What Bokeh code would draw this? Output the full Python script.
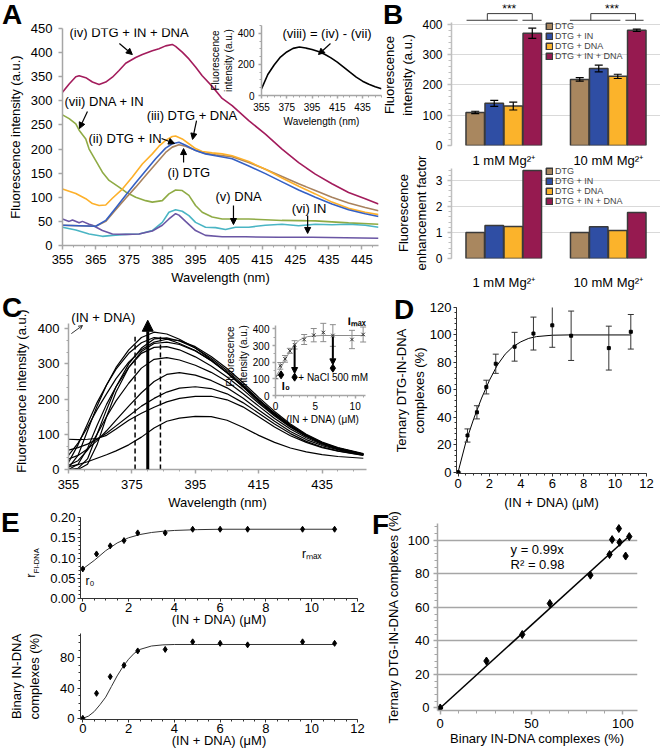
import numpy as np
from bokeh.plotting import figure
from bokeh.models import (ColumnDataSource, Range1d, FactorRange, FixedTicker, Label, Arrow,
                          NormalHead, OpenHead, Legend, LegendItem, NumeralTickFormatter, Div)
from bokeh.transform import dodge
from bokeh.layouts import column
from bokeh.embed import file_html
from bokeh.resources import INLINE

FONT = "Liberation Sans"

# ---------------- Panel A data (wavelength nm, fluorescence a.u.) ----------------
iv_x = [355, 357, 359, 360, 362, 364, 366, 368, 370, 372, 374, 377, 379, 382, 384, 386, 388, 389, 391, 393, 395, 397, 400, 403, 406, 411, 416, 421, 426, 431, 436, 441, 446, 450]
iv_y = [318, 335, 350, 352, 348, 339, 334, 339, 349, 363, 378, 390, 396, 404, 408, 414, 417, 413, 401, 387, 370, 352, 330, 305, 290, 259, 231, 200, 172, 148, 128, 110, 97, 86]
iii_x = [355, 359, 362, 364, 366, 368, 370, 373, 376, 379, 382, 384, 386, 388, 389, 391, 393, 395, 397, 400, 403, 406, 411, 416, 421, 426, 431, 436, 441, 446, 450]
iii_y = [117, 108, 97, 87, 83, 84, 98, 117, 142, 169, 190, 206, 218, 226, 227, 221, 211, 201, 195, 192, 190, 186, 174, 158, 140, 123, 107, 90, 77, 69, 64]
ii_x = [355, 360, 365, 368, 371, 374, 377, 380, 383, 386, 388, 390, 392, 395, 398, 401, 406, 411, 416, 421, 426, 431, 436, 441, 446, 450]
ii_y = [42, 41, 40, 52, 78, 104, 130, 155, 180, 202, 211, 214, 208, 197, 190, 186, 180, 165, 149, 132, 115, 100, 86, 74, 66, 60]
i_x = [355, 360, 365, 368, 371, 374, 377, 380, 383, 386, 388, 390, 392, 394, 396, 398, 401, 406, 411, 416, 421, 426, 431, 436, 441, 446, 450]
i_y = [42, 41, 40, 50, 74, 98, 121, 145, 169, 193, 204, 209, 206, 200, 195, 191, 188, 184, 172, 158, 143, 128, 114, 100, 88, 79, 72]
vii_x = [355, 357, 359, 360, 362, 363, 365, 367, 369, 372, 374, 377, 380, 382, 385, 387, 389, 391, 393, 395, 397, 400, 403, 411, 421, 431, 441, 450]
vii_y = [271, 263, 252, 239, 221, 200, 176, 152, 135, 121, 111, 100, 93, 90, 93, 107, 115, 114, 104, 83, 69, 59, 55, 55, 52, 51, 47, 44]
v_x = [355, 359, 363, 367, 370, 374, 378, 382, 385, 387, 389, 391, 393, 395, 398, 401, 404, 407, 411, 416, 421, 426, 431, 436, 441, 446, 450]
v_y = [38, 32, 24, 19, 21, 23, 24, 31, 48, 69, 74, 71, 62, 48, 38, 37, 33, 38, 38, 42, 44, 41, 44, 43, 44, 42, 38]
vi_x = [355, 357, 358, 360, 361, 363, 364, 367, 370, 374, 378, 382, 385, 387, 389, 390, 392, 395, 398, 403, 410, 420, 430, 440, 450]
vi_y = [55, 50, 53, 47, 50, 44, 42, 31, 24, 23, 24, 30, 42, 55, 66, 63, 50, 31, 21, 18, 18, 17, 17, 16, 15]
viii_x = [355, 360, 365, 370, 375, 380, 385, 390, 395, 400, 405, 410, 415, 420, 425, 430, 435, 440, 445, 450]
viii_y = [43, 135, 196, 247, 280, 303, 312, 305, 296, 283, 265, 242, 215, 183, 150, 118, 92, 72, 56, 43]

# ---------------- Panel B data ----------------
groups = ["1 mM Mg²⁺", "10 mM Mg²⁺"]
conditions = ["DTG", "DTG + IN", "DTG + DNA", "DTG + IN + DNA"]
cond_keys = ["dtg", "dtg_in", "dtg_dna", "dtg_in_dna"]
cond_colors = ["#a9875f", "#2f4ea4", "#fbb32b", "#961a50"]
intensity_dtg = [109, 218]
intensity_dtg_in = [139, 254]
intensity_dtg_dna = [130, 228]
intensity_dtg_in_dna = [370, 380]
err_dtg = [4, 6]
err_dtg_in = [10, 11]
err_dtg_dna = [13, 7]
err_dtg_in_dna = [17, 4]
enh_dtg = [1.0, 1.0]
enh_dtg_in = [1.27, 1.22]
enh_dtg_dna = [1.23, 1.08]
enh_dtg_in_dna = [3.38, 1.77]

# ---------------- Panel C data ----------------
wl_C = [355, 358, 361, 364, 367, 370, 374, 378, 382, 386, 390, 395, 400, 405, 410, 415, 420, 425, 430, 435, 440, 448]
spectra_C = [
    [8, 14, 22, 32, 42, 53, 70, 92, 118, 137, 146, 151, 150, 140, 120, 97, 77, 61, 50, 42, 37, 32],
    [86, 85, 86, 88, 97, 115, 140, 160, 177, 192, 202, 208, 208, 198, 178, 150, 121, 96, 77, 62, 52, 40],
    [55, 62, 72, 86, 103, 124, 152, 180, 202, 220, 231, 235, 230, 215, 190, 160, 129, 102, 80, 64, 53, 41],
    [30, 40, 58, 82, 110, 140, 180, 218, 250, 270, 275, 268, 253, 232, 203, 169, 137, 108, 85, 68, 56, 42],
    [12, 25, 55, 100, 150, 195, 245, 288, 313, 318, 311, 296, 276, 250, 216, 180, 145, 115, 90, 71, 58, 43],
    [0, 15, 60, 125, 185, 235, 290, 330, 347, 349, 340, 320, 294, 263, 227, 188, 152, 120, 94, 74, 60, 43],
    [0, 3, 30, 100, 170, 235, 300, 345, 371, 374, 365, 345, 316, 281, 241, 199, 160, 126, 98, 76, 61, 44],
    [20, 70, 130, 190, 240, 285, 330, 360, 375, 371, 358, 338, 309, 275, 236, 196, 157, 123, 96, 75, 60, 43],
    [5, 40, 110, 180, 240, 290, 340, 375, 390, 385, 370, 345, 312, 275, 235, 192, 155, 122, 95, 73, 58, 42],
    [0, 0, 15, 70, 150, 220, 290, 335, 358, 362, 355, 337, 310, 276, 238, 198, 160, 126, 98, 76, 61, 44],
    [40, 75, 120, 170, 215, 258, 305, 340, 362, 370, 366, 349, 321, 287, 247, 205, 165, 129, 100, 78, 62, 45],
]
window_nm = [376, 384]
peak_nm = 380
conc = [0, 0.6, 1.2, 1.8, 2.4, 3.6, 4.8, 6.0, 7.2, 9.6, 11.0]
I_obs = [110, 178, 220, 268, 304, 336, 362, 378, 360, 336, 366]
I_err = [10, 20, 20, 15, 25, 30, 40, 55, 65, 55, 45]
fitI_x = [0, 0.5, 1, 1.5, 2, 2.5, 3, 3.5, 4, 5, 6, 11.2]
fitI_y = [110, 150, 195, 240, 278, 310, 332, 345, 353, 358, 360, 360]
nacl_x = [0.7, 2.4, 7.2]
nacl_y = [124, 110, 164]

# ---------------- Panel D data ----------------
ternary = [0, 26.7, 43.6, 62, 79, 91.4, 101, 107, 99.4, 90.4, 102.3]
ternary_err = [0, 4.8, 4.8, 5, 7, 10.5, 12, 16, 18, 16, 12.6]
fitD_x = [0, 0.5, 1.0, 1.5, 2.0, 2.5, 3.0, 3.5, 4.0, 4.5, 5.0, 6.0, 7.0, 11.0]
fitD_y = [0, 22, 39, 54, 67, 78, 86, 91.5, 95, 97.5, 98.8, 99.8, 100, 100]

# ---------------- Panel E data ----------------
r_fi = [0.073, 0.11, 0.13, 0.143, 0.162, 0.162, 0.171, 0.171, 0.171, 0.171, 0.171]
fitR_x = [0, 0.5, 1, 1.5, 2, 2.5, 3, 3.5, 4, 5, 6, 11]
fitR_y = [0.073, 0.094, 0.118, 0.137, 0.150, 0.158, 0.163, 0.166, 0.168, 0.170, 0.171, 0.171]
binary = [0, 33, 55, 70, 89, 91, 101, 99, 97, 101, 99]
fitB_x = [0, 0.25, 0.5, 0.75, 1, 1.25, 1.5, 1.75, 2, 2.25, 2.5, 3, 3.5, 4, 5, 11]
fitB_y = [0, 3, 9, 18, 28, 42, 56, 68, 78, 86, 91, 95.5, 97, 97.5, 97.5, 97.5]

# ---------------- Panel F data ----------------
binary_F = [0, 25.3, 44.9, 60, 82.2, 92.7, 94.1, 97.8, 98.2, 101.5, 103.5]
ternary_F = [0, 28, 43.8, 62.3, 79.2, 91.5, 100.4, 107, 98.8, 90.6, 102.2]
reg_x = [0, 104]
reg_y = [0, 103]

GRAY = "#a6a6a6"
DARK = "#3a3a3a"


def make_fig(frame, xr, yr, bl=110, br=30, bt=40, bb=60):
    fl, ft, fr, fb = frame
    p = figure(frame_width=fr - fl, frame_height=fb - ft, x_range=xr, y_range=yr,
               output_backend="svg", toolbar_location=None,
               min_border_left=bl, min_border_right=br, min_border_top=bt, min_border_bottom=bb)
    p.styles = {"position": "absolute", "left": f"{fl - bl}px", "top": f"{ft - bt}px"}
    p.outline_line_color = None
    p.background_fill_color = None
    p.border_fill_color = None
    p.xgrid.visible = False
    p.ygrid.visible = False
    return p


def style_axes(p, color=GRAY, lw=1.5, fs="13px", tick_out=4, minor_out=2):
    for ax in p.axis:
        ax.axis_line_color = color
        ax.axis_line_width = lw
        ax.major_tick_line_color = color
        ax.major_tick_line_width = lw
        ax.minor_tick_line_color = color
        ax.minor_tick_line_width = 1
        ax.major_tick_in = 0
        ax.major_tick_out = tick_out
        ax.minor_tick_in = 0
        ax.minor_tick_out = minor_out
        ax.major_label_text_font = FONT
        ax.major_label_text_font_size = fs
        ax.major_label_text_color = "black"
        ax.axis_label_text_font = FONT
        ax.axis_label_text_font_size = fs
        ax.axis_label_text_font_style = "normal"
        ax.axis_label_text_color = "black"


def text(p, x, y, s, size="13px", align="left", baseline="middle", angle=0.0, style="normal"):
    p.add_layout(Label(x=x, y=y, text=s, text_font=FONT, text_font_size=size,
                       text_align=align, text_baseline=baseline, angle=angle,
                       text_font_style=style, text_color="black"))


def arrow(p, x0, y0, x1, y1, lw=1.2, size=6):
    p.add_layout(Arrow(end=NormalHead(size=size, fill_color="black", line_color="black", line_width=1),
                       x_start=x0, y_start=y0, x_end=x1, y_end=y1,
                       line_width=lw, line_color="black"))


def fixed(major, minor=None):
    return FixedTicker(ticks=list(major), minor_ticks=[] if minor is None else list(minor))


# ======================= Panel A =======================
pA = make_fig((62, 28, 378, 245), Range1d(355, 450), Range1d(0, 450))
style_axes(pA)
pA.xaxis.ticker = fixed(range(355, 450, 10), np.arange(355, 450.1, 10 / 3))
pA.yaxis.ticker = fixed(range(0, 451, 50))
pA.xaxis.axis_label = "Wavelength (nm)"
pA.yaxis.axis_label = "Fluorescence intensity (a.u.)"
pA.xaxis.major_label_standoff = 5
pA.xaxis.axis_label_standoff = 3
pA.yaxis.major_label_standoff = 6
pA.yaxis.axis_label_standoff = 5
for xs, ys, c in [(vii_x, vii_y, "#8fab45"), (v_x, v_y, "#4ab5c4"), (vi_x, vi_y, "#6a56a4"),
                  (i_x, i_y, "#a8825e"), (iii_x, iii_y, "#fdb02a"), (ii_x, ii_y, "#3560c4"),
                  (iv_x, iv_y, "#a31c5c")]:
    pA.line(xs, ys, line_color=c, line_width=1.6)
text(pA, 357.1, 442, "(iv) DTG + IN + DNA")
arrow(pA, 372.1, 419, 376.0, 396)
text(pA, 355.6, 298.6, "(vii) DNA + IN")
arrow(pA, 362.5, 278, 360.1, 242.6)
text(pA, 380.3, 269.6, "(iii) DTG + DNA")
arrow(pA, 395.3, 259, 394.1, 220)
text(pA, 362.8, 222, "(ii) DTG + IN")
arrow(pA, 384.8, 222, 388.7, 211.5)
text(pA, 386.6, 151.4, "(i) DTG")
arrow(pA, 391.4, 172, 391.4, 201)
text(pA, 401, 101.6, "(v) DNA")
arrow(pA, 406.4, 83, 406.4, 43.5)
text(pA, 423.9, 76.7, "(vi) IN")
arrow(pA, 428.7, 62, 428.7, 25)

# ---- inset of A ----
pAi = make_fig((261, 25, 381, 95), Range1d(355, 450), Range1d(0, 450), br=4)
style_axes(pAi, fs="10px", tick_out=3, minor_out=2)
pAi.xaxis.ticker = fixed(range(355, 450, 20), np.arange(355, 450.1, 5))
pAi.yaxis.ticker = fixed([0, 200, 400], np.arange(0, 450.1, 50))
pAi.xaxis.axis_label = "Wavelength (nm)"
pAi.yaxis.axis_label = "Fluorescence\nintensity (a.u.)"
pAi.xaxis.major_label_standoff = 4
pAi.xaxis.axis_label_standoff = 2
pAi.yaxis.major_label_standoff = 4
pAi.yaxis.axis_label_standoff = 1
pAi.line(viii_x, viii_y, line_color="black", line_width=1.6)
text(pAi, 371.6, 396, "(viii) = (iv) - (vii)")
arrow(pAi, 409.6, 334, 400.1, 263.5)

# ======================= Panel B =======================
srcB = ColumnDataSource(dict(
    group=groups,
    dtg=intensity_dtg, dtg_in=intensity_dtg_in, dtg_dna=intensity_dtg_dna, dtg_in_dna=intensity_dtg_in_dna,
    dtg_err=err_dtg, dtg_in_err=err_dtg_in, dtg_dna_err=err_dtg_dna, dtg_in_dna_err=err_dtg_in_dna,
    dtg_e=enh_dtg, dtg_in_e=enh_dtg_in, dtg_dna_e=enh_dtg_dna, dtg_in_dna_e=enh_dtg_in_dna,
))
for k in cond_keys:
    srcB.data[k + "_hi"] = [v + e for v, e in zip(srcB.data[k], srcB.data[k + "_err"])]
    srcB.data[k + "_lo"] = [v - e for v, e in zip(srcB.data[k], srcB.data[k + "_err"])]
offsets = [-0.273, -0.091, 0.091, 0.273]
BAR_W = 0.177


def bar_panel(frame, yr, suffix, ticks, minors, bounds, ylabel, legend_loc, x_standoff, bt):
    p = make_fig(frame, FactorRange(factors=groups), yr, br=0, bt=bt, bb=30)
    style_axes(p, color="#bfbfbf", lw=1.5, tick_out=4, minor_out=3)
    p.yaxis.ticker = fixed(ticks, minors)
    p.yaxis.bounds = bounds
    p.yaxis.axis_label = ylabel
    p.yaxis.major_label_standoff = 5
    p.yaxis.axis_label_standoff = 4
    p.yaxis.major_label_text_font_size = "12px"
    p.ygrid.visible = True
    p.ygrid.grid_line_color = "#d9d9d9"
    p.ygrid.grid_line_width = 1
    p.xaxis.axis_line_color = None
    p.xaxis.major_tick_line_color = None
    p.xaxis.major_label_standoff = x_standoff
    items = []
    for k, name, c, off in zip(cond_keys, conditions, cond_colors, offsets):
        r = p.vbar(x=dodge("group", off, range=p.x_range), top=k + suffix, width=BAR_W, source=srcB,
                   fill_color=c, line_color=DARK, line_width=1.5)
        items.append(LegendItem(label=name, renderers=[r]))
    leg = Legend(items=items, location=legend_loc, orientation="vertical", padding=0, margin=0,
                 spacing=-2, glyph_width=8, glyph_height=8, label_standoff=2, label_height=8,
                 label_text_font=FONT, label_text_font_size="9px", border_line_color=None,
                 background_fill_alpha=0)
    p.add_layout(leg)
    return p


pB1 = bar_panel((451, 4, 660, 145), Range1d(0, 465), "",
                [0, 100, 200, 300, 400], np.arange(0, 401, 20), (0, 407),
                "Fluorescence\nintensity (a.u.)", (94, 84), 3, 4)
for k, off in zip(cond_keys, offsets):
    xd = dodge("group", off, range=pB1.x_range)
    pB1.segment(x0=xd, x1=xd, y0=k + "_lo", y1=k + "_hi", source=srcB, line_color="black", line_width=1.2)
    pB1.scatter(x=xd, y=k + "_hi", source=srcB, marker="dash", size=8, line_color="black", line_width=1.2)
    pB1.scatter(x=xd, y=k + "_lo", source=srcB, marker="dash", size=8, line_color="black", line_width=1.2)
pB1.multi_line(xs=[[0.144, 0.633], [0.679, 0.862], [0.343, 0.343, 0.773, 0.773],
                   [1.133, 1.616], [1.664, 1.838], [1.333, 1.333, 1.761, 1.761]],
               ys=[[413, 413], [413, 413], [413, 435, 435, 413],
                   [413, 413], [413, 413], [413, 435, 435, 413]],
               line_color=DARK, line_width=1)
text(pB1, 0.553, 451, "***", size="12px", align="center")
text(pB1, 1.536, 451, "***", size="12px", align="center")

pB2 = bar_panel((451, 167, 660, 258), Range1d(0, 3.5), "_e",
                [0, 1, 2, 3], np.arange(0, 3.41, 0.2), (0, 3.45),
                "Fluorescence\nenhancement factor", (94, 52), 12, 24)

# ======================= Panel C =======================
pC = make_fig((68, 312, 366, 469), Range1d(355, 449), Range1d(0, 446))
style_axes(pC)
pC.xaxis.ticker = fixed(range(355, 449, 20), np.arange(355, 449, 5))
pC.yaxis.ticker = fixed(range(0, 401, 100), np.arange(0, 415, 100 / 3))
pC.yaxis.bounds = (0, 415)
pC.xaxis.axis_label = "Wavelength (nm)"
pC.yaxis.axis_label = "Fluorescence intensity (a.u.)"
pC.xaxis.major_label_standoff = 6
pC.xaxis.axis_label_standoff = 3
pC.yaxis.major_label_standoff = 5
pC.yaxis.axis_label_standoff = 6
pC.multi_line(xs=[wl_C] * len(spectra_C), ys=spectra_C, line_color="black", line_width=1.2)
pC.segment(x0=window_nm, x1=window_nm, y0=[0, 0], y1=[377, 377], line_color="black",
           line_width=1.5, line_dash="5 3")
pC.add_layout(Arrow(end=NormalHead(size=11, fill_color="black", line_color="black"),
                    x_start=peak_nm, y_start=0, x_end=peak_nm, y_end=424, line_width=3, line_color="black"))
text(pC, 355.9, 430.6, "(IN + DNA)")
pC.add_layout(Arrow(end=OpenHead(size=4, line_width=0.8), x_start=355.9, y_start=386,
                    x_end=359.4, y_end=409, line_width=0.8, line_color="black"))

# ---- inset of C ----
pCi = make_fig((275, 317, 369, 395), Range1d(0, 11.8), Range1d(0, 468), br=10)
style_axes(pCi, fs="10px", tick_out=3, minor_out=2)
pCi.xaxis.ticker = fixed([0, 5, 10], range(0, 12))
pCi.xaxis.bounds = (0, 11.3)
pCi.yaxis.ticker = fixed(range(0, 401, 100), np.arange(0, 420, 50))
pCi.yaxis.bounds = (0, 420)
pCi.xaxis.axis_label = "(IN + DNA) (μM)"
pCi.yaxis.axis_label = "Fluorescence\nintensity (a.u.)"
pCi.xaxis.major_label_standoff = 3
pCi.xaxis.axis_label_standoff = 1
pCi.yaxis.major_label_standoff = 3
pCi.yaxis.axis_label_standoff = 1
pCi.line(fitI_x, fitI_y, line_color="#8c8c8c", line_width=1)
srcCi = ColumnDataSource(dict(x=conc, y=I_obs, lo=[v - e for v, e in zip(I_obs, I_err)],
                              hi=[v + e for v, e in zip(I_obs, I_err)]))
pCi.segment(x0="x", x1="x", y0="lo", y1="hi", source=srcCi, line_color="#8c8c8c", line_width=1)
pCi.scatter(x="x", y="hi", source=srcCi, marker="dash", size=6, line_color="#8c8c8c")
pCi.scatter(x="x", y="lo", source=srcCi, marker="dash", size=6, line_color="#8c8c8c")
pCi.scatter(x="x", y="y", source=srcCi, marker="x", size=5, line_color="#333333", line_width=1)
pCi.scatter(nacl_x, nacl_y, marker="diamond", size=8, fill_color="black", line_color="black")
for ax_, top_, tip_ in [(2.4, 300, 132), (7.2, 352, 184)]:
    pCi.add_layout(Arrow(end=NormalHead(size=6, fill_color="black", line_color="black"),
                         x_start=ax_, y_start=top_, x_end=ax_, y_end=tip_, line_width=2, line_color="black"))
text(pCi, 1.3, 58, "I₀", size="11px", align="center", style="bold")
text(pCi, 2.86, 110, "+ NaCl 500 mM", size="10px")
text(pCi, 10.2, 450, "Iₘₐₓ", size="11px", align="center", style="bold")

# ======================= Panel D =======================
pD = make_fig((456, 307, 646, 473), Range1d(-0.1, 12), Range1d(-1, 120), br=14)
style_axes(pD, color="#333333", lw=1, tick_out=3, minor_out=2)
pD.xaxis.ticker = fixed(range(0, 13, 2), np.arange(0, 12.01, 0.5))
pD.yaxis.ticker = fixed(range(0, 121, 20), np.arange(0, 120.1, 4))
pD.xaxis.axis_label = "(IN + DNA) (μM)"
pD.yaxis.axis_label = "Ternary DTG-IN-DNA\ncomplexes (%)"
pD.xaxis.major_label_standoff = 2
pD.xaxis.axis_label_standoff = 4
pD.yaxis.major_label_standoff = 2
pD.yaxis.axis_label_standoff = 0
pD.line(fitD_x, fitD_y, line_color="black", line_width=1)
srcD = ColumnDataSource(dict(x=conc, y=ternary, lo=[v - e for v, e in zip(ternary, ternary_err)],
                             hi=[v + e for v, e in zip(ternary, ternary_err)]))
pD.segment(x0="x", x1="x", y0="lo", y1="hi", source=srcD, line_color="#333333", line_width=1)
pD.scatter(x="x", y="hi", source=srcD, marker="dash", size=6, line_color="#333333")
pD.scatter(x="x", y="lo", source=srcD, marker="dash", size=6, line_color="#333333")
pD.scatter(x="x", y="y", source=srcD, marker="square", size=3, fill_color="black", line_color="black")

# ======================= Panel E =======================
pE1 = make_fig((80, 517, 357, 598), Range1d(-0.1, 12), Range1d(0, 0.2), bb=24)
style_axes(pE1, color="#333333", lw=1, tick_out=3, minor_out=2)
pE1.xaxis.ticker = fixed(range(0, 13, 2), np.arange(0, 12.01, 0.5))
pE1.yaxis.ticker = fixed([0, 0.05, 0.1, 0.15, 0.2], np.arange(0, 0.201, 0.01))
pE1.yaxis.formatter = NumeralTickFormatter(format="0.00")
pE1.xaxis.axis_label = "(IN + DNA) (μM)"
pE1.xaxis.major_label_standoff = 1
pE1.xaxis.axis_label_standoff = -3
pE1.yaxis.major_label_standoff = 2
pE1.line(fitR_x, fitR_y, line_color="#333333", line_width=1)
pE1.scatter(conc, r_fi, marker="diamond", size=6, fill_color="black", line_color="black")
text(pE1, 0.31, 0.042, "r₀", size="12px", align="center")
text(pE1, 10.0, 0.111, "rₘₐₓ", size="12px", align="center")

pE2 = make_fig((80, 633, 357, 719), Range1d(-0.1, 12), Range1d(-1.5, 112), bb=31)
style_axes(pE2, color="#333333", lw=1, tick_out=3, minor_out=2)
pE2.xaxis.ticker = fixed(range(0, 13, 2), np.arange(0, 12.01, 0.5))
pE2.yaxis.ticker = fixed([0, 40, 80], np.arange(0, 111, 10))
pE2.xaxis.axis_label = "(IN + DNA) (μM)"
pE2.yaxis.axis_label = "Binary IN-DNA\ncomplexes (%)"
pE2.xaxis.major_label_standoff = 1
pE2.xaxis.axis_label_standoff = -3
pE2.yaxis.major_label_standoff = 3
pE2.yaxis.axis_label_standoff = 15
pE2.line(fitB_x, fitB_y, line_color="#333333", line_width=1)
pE2.scatter(conc, binary, marker="diamond", size=6, fill_color="black", line_color="black")

# ======================= Panel F =======================
pF = make_fig((437, 523, 637, 710), Range1d(-1.5, 108), Range1d(-1.5, 110), br=23, bb=40)
style_axes(pF, color=GRAY, lw=1.5, tick_out=4, minor_out=3)
pF.xaxis.ticker = fixed([0, 50, 100], np.arange(0, 108, 10))
pF.yaxis.ticker = fixed(range(0, 101, 20), np.arange(0, 110, 4))
pF.ygrid.visible = True
pF.ygrid.ticker = FixedTicker(ticks=[20, 40, 60, 80, 100])
pF.ygrid.grid_line_color = "#a6a6a6"
pF.ygrid.grid_line_width = 1.5
pF.xaxis.axis_label = "Binary IN-DNA complexes (%)"
pF.yaxis.axis_label = "Ternary DTG-IN-DNA complexes (%)"
pF.xaxis.major_label_standoff = 4
pF.xaxis.axis_label_standoff = 0
pF.yaxis.major_label_standoff = 4
pF.yaxis.axis_label_standoff = 4
pF.line(reg_x, reg_y, line_color="black", line_width=1.5)
pF.scatter(binary_F, ternary_F, marker="diamond", size=8, fill_color="black", line_color="black")
text(pF, 38.5, 94.4, "y = 0.99x")
text(pF, 38.5, 85.4, "R² = 0.98")

# ======================= panel letters and E's y-axis title (HTML text) =======================
text_divs = []
for s, lx, ly in [("A", 2, 25), ("B", 383, 25), ("C", 2, 318), ("D", 394, 320), ("E", 1, 533), ("F", 372, 535)]:
    text_divs.append(Div(text=s, width=30, height=30, styles={
        "position": "absolute", "left": f"{lx}px", "top": f"{ly - 24}px", "display": "block",
        "font-family": FONT, "font-size": "28px", "font-weight": "bold", "line-height": "28px",
        "color": "black", "margin": "0", "padding": "0"}))
text_divs.append(Div(text='r<sub style="font-size:7.5px">FI-DNA</sub>', width=40, height=16, styles={
    "position": "absolute", "left": "11px", "top": "555px", "display": "block",
    "font-family": FONT, "font-size": "13px", "line-height": "16px", "text-align": "center",
    "white-space": "nowrap", "transform": "rotate(-90deg)", "transform-origin": "50% 50%",
    "color": "black", "margin": "0", "padding": "0"}))

layout = column(pA, pAi, pB1, pB2, pC, pCi, pD, pE1, pE2, pF, *text_divs, width=660, height=750,
                styles={"position": "relative"})

open("out.html", "w").write(file_html(layout, INLINE))
